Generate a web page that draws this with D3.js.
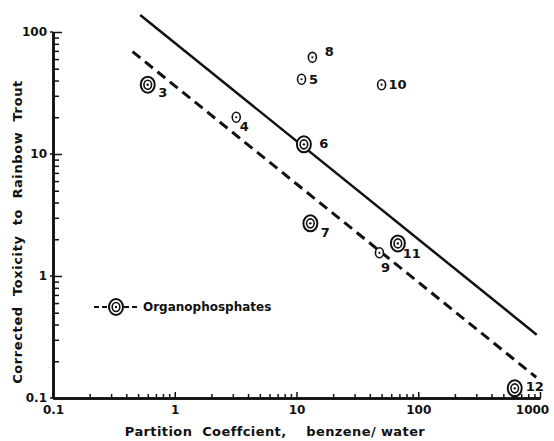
<!DOCTYPE html>
<html><head><meta charset="utf-8">
<script src="https://cdn.jsdelivr.net/npm/d3@7"></script>
<style>
body{margin:0;background:#fff;}
text{font-family:"DejaVu Sans",sans-serif;font-weight:bold;fill:#111;}
</style></head>
<body><svg id="c" width="554" height="441"></svg>
<script>
// ---- data ----
const pointIds   = ["3","4","5","8","10","6","7","9","11","12"];
const partition  = [0.6, 3.2, 11, 13.5, 50, 11.5, 13, 48, 68, 620];
const toxicity   = [37, 20, 41, 62, 37, 12, 2.7, 1.55, 1.85, 0.12];
const organophos = [true,false,false,false,false,true,true,false,true,true];
const solidLineX = [0.52, 940];
const solidLineY = [138, 0.33];
const dashLineX  = [0.45, 930];
const dashLineY  = [69, 0.148];
const xTickVals  = [0.1, 1, 10, 100, 1000];
const xTickLabels= ["0.1","1","10","100","1000"];
const yTickVals  = [0.1, 1, 10, 100];
const yTickLabels= ["0.1","1","10","100"];
const legendLabel= "Organophosphates";
const xTitle     = "Partition  Coeffcient,    benzene/ water";
const yTitle     = "Corrected  Toxicity  to  Rainbow  Trout";

// ---- layout ----
const labelOffset = {"3":[15,8],"4":[8,9],"5":[12,0],"8":[17,-6],"10":[16,0],
  "6":[20,-1],"7":[15,9],"9":[6,15],"11":[14,10],"12":[20,-2]};

const svg = d3.select("#c");
const x = d3.scaleLog().domain([0.1,1000]).range([53,540]);
const y = d3.scaleLog().domain([0.1,100]).range([398,32]);

function minors(lo,hi){const r=[];for(let d=lo;d<hi;d*=10)for(let k=2;k<=9;k++)r.push(d*k);return r;}

// axes
const gx = svg.append("g").attr("transform","translate(0,398)");
gx.call(d3.axisBottom(x).tickValues(minors(0.1,1000)).tickSizeInner(-4).tickSizeOuter(0).tickFormat(""));
gx.call(g=>g.append("g").call(d3.axisBottom(x).tickValues(xTickVals).tickSizeInner(-6).tickSizeOuter(0)
   .tickPadding(7).tickFormat((d,i)=>xTickLabels[i])));
const gy = svg.append("g").attr("transform","translate(53,0)");
gy.call(d3.axisLeft(y).tickValues(minors(0.1,100)).tickSizeInner(-6).tickSizeOuter(0).tickFormat(""));
gy.call(g=>g.append("g").call(d3.axisLeft(y).tickValues(yTickVals).tickSizeInner(-9).tickSizeOuter(0)
   .tickPadding(6).tickFormat((d,i)=>yTickLabels[i])));
svg.selectAll(".domain").attr("stroke","#111").attr("stroke-width",2.5);
svg.selectAll(".tick line").attr("stroke","#111").attr("stroke-width",1.5);
svg.selectAll(".tick text").style("font-size","12px").style("font-family","DejaVu Sans").style("font-weight","bold").attr("fill","#111");
gx.selectAll(".tick text").filter(d=>d===1000).attr("dx",-8);
// major tick stubs outside on y (left)
gy.selectAll(null).data(yTickVals).enter().append("line")
  .attr("x1",-3).attr("x2",0).attr("y1",d=>y(d)).attr("y2",d=>y(d)).attr("stroke","#111").attr("stroke-width",1.5);

// regression lines
const line = d3.line().x(d=>x(d[0])).y(d=>y(d[1]));
svg.append("path").datum(solidLineX.map((v,i)=>[v,solidLineY[i]])).attr("d",line)
  .attr("stroke","#111").attr("stroke-width",2.5).attr("fill","none");
svg.append("path").datum(dashLineX.map((v,i)=>[v,dashLineY[i]])).attr("d",line)
  .attr("stroke","#111").attr("stroke-width",3).attr("fill","none").attr("stroke-dasharray","10,6");

// markers
function bigMarker(g){
  g.append("ellipse").attr("rx",7).attr("ry",8).attr("fill","#fff").attr("stroke","#111").attr("stroke-width",2);
  g.append("ellipse").attr("rx",3.8).attr("ry",4.5).attr("fill","none").attr("stroke","#111").attr("stroke-width",1.6);
  g.append("circle").attr("r",1.2).attr("fill","#111");
}
function smallMarker(g){
  g.append("ellipse").attr("rx",4).attr("ry",5).attr("fill","#fff").attr("stroke","#111").attr("stroke-width",1.6);
  g.append("circle").attr("r",1.1).attr("fill","#111");
}
const pts = pointIds.map((id,i)=>({id,x:partition[i],y:toxicity[i],op:organophos[i]}));
const pg = svg.selectAll(".pt").data(pts).enter().append("g")
  .attr("transform",d=>`translate(${x(d.x)},${y(d.y)})`);
pg.each(function(d){ d.op ? bigMarker(d3.select(this)) : smallMarker(d3.select(this)); });
pg.append("text").attr("x",d=>labelOffset[d.id][0]).attr("y",d=>labelOffset[d.id][1])
  .attr("text-anchor","middle").attr("dominant-baseline","central").style("font-size","13px")
  .text(d=>d.id);

// legend
const lg = svg.append("g").attr("transform","translate(116,307)");
lg.append("line").attr("x1",-22).attr("x2",-8).attr("stroke","#111").attr("stroke-width",2).attr("stroke-dasharray","5,3");
lg.append("line").attr("x1",8).attr("x2",22).attr("stroke","#111").attr("stroke-width",2).attr("stroke-dasharray","5,3");
bigMarker(lg);
lg.append("text").attr("x",27).attr("y",0).attr("dominant-baseline","central").style("font-size","12px").text(legendLabel);

// titles
svg.append("text").attr("x",275).attr("y",431).attr("text-anchor","middle").attr("dominant-baseline","central")
  .style("font-size","13px").style("letter-spacing","0.4px").attr("xml:space","preserve").text(xTitle);
svg.append("text").attr("transform","translate(17,232) rotate(-90)").attr("text-anchor","middle")
  .attr("dominant-baseline","central").style("font-size","13px").style("letter-spacing","0.6px")
  .attr("xml:space","preserve").text(yTitle);
</script></body></html>
